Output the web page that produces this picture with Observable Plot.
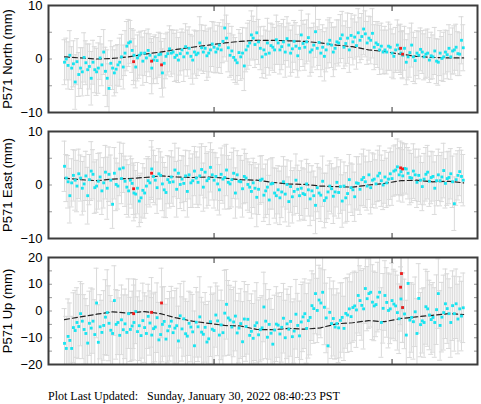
<!DOCTYPE html>
<html><head><meta charset="utf-8">
<script src="https://cdn.jsdelivr.net/npm/d3@7"></script>
<script src="https://cdn.jsdelivr.net/npm/@observablehq/plot@0.6"></script>
<style>
body{margin:0;background:#fff;}
#wrap{position:relative;width:481px;height:404px;}
.panel{position:absolute;left:0;}
#foot{position:absolute;left:48px;top:389px;font:12px "Liberation Serif","Times New Roman",serif;color:#000;white-space:pre;}
</style></head><body><div id="wrap"></div>
<script>
// ---- time grid (decimal years) ----
const firstDate = 2019.16;
const spacing = 0.01;
const xDomain = [2019.07, 2021.48];
const yearTicks = [2020, 2021];

// ---- daily solutions ----
const northValues = [
-0.6,0.0,-1.2,0.7,-1.7,-0.9,-4.3,-0.5,-2.9,-1.7,-2.4,0.3,-0.7,-2.0,-1.4,
-3.6,-0.6,-2.0,-2.4,-1.7,0.2,-1.1,1.3,-2.3,-3.6,-5.5,-0.8,-1.7,-2.6,-1.9,
-1.1,-0.6,0.4,-1.5,1.1,2.4,3.0,3.2,1.6,0.7,-1.5,0.2,0.7,1.1,-0.4,
1.1,0.2,1.6,0.7,-1.7,-0.2,0.4,-0.3,0.8,0.9,-2.6,-0.8,0.5,1.0,1.9,
1.1,1.3,0.3,0.7,-0.2,1.0,1.7,0.4,2.3,1.1,2.0,0.5,-0.2,1.3,0.8,
1.1,3.0,2.1,1.3,2.0,0.6,1.1,1.7,2.8,2.2,1.3,1.9,2.6,1.7,3.3,
5.8,3.9,2.1,0.7,1.5,0.3,-0.2,-0.7,1.2,0.4,1.1,-1.3,1.7,2.4,3.0,
4.5,3.9,2.7,4.9,3.2,2.0,0.4,1.7,0.9,3.0,1.1,2.5,2.2,1.7,3.6,
3.0,1.7,2.3,3.2,1.3,3.8,2.6,1.1,1.9,3.3,2.4,0.6,2.0,4.5,2.9,
2.2,3.2,4.0,1.3,1.7,2.6,5.1,2.0,3.1,1.1,2.2,0.5,1.7,2.8,3.5,
2.6,1.3,2.0,3.2,3.0,3.8,4.5,2.2,2.9,3.9,1.7,4.4,3.2,4.1,2.5,
4.9,3.5,4.2,5.6,4.7,3.0,3.9,3.5,4.8,2.2,3.0,2.7,1.7,2.4,1.3,
1.7,1.3,2.4,2.2,1.1,0.5,1.7,2.6,1.9,1.1,0.7,2.0,-0.6,0.4,1.2,
2.6,0.4,-0.3,1.1,0.7,1.8,1.3,0.4,0.9,1.1,-0.2,0.6,0.4,1.5,-0.4,
-0.6,1.1,0.1,0.4,1.3,0.8,2.0,0.4,1.5,1.7,2.2,1.0,0.9,3.5,2.1];
const northSigma = [
4.2,3.9,4.4,4.6,4.0,4.3,5.1,4.3,4.1,3.8,4.5,4.6,4.1,4.8,4.2,
5.0,4.1,4.3,4.4,4.7,4.0,3.9,4.2,4.5,5.3,4.6,4.2,4.0,4.3,4.4,
3.8,4.5,4.2,4.1,4.2,4.6,4.4,4.0,4.1,4.7,3.9,4.3,4.3,4.1,4.5,
4.2,4.6,4.0,4.0,4.8,4.4,4.1,4.3,4.2,3.9,4.5,4.6,4.2,4.0,4.3,
4.4,4.1,4.5,4.7,4.2,4.0,3.9,4.6,4.3,4.3,4.0,4.1,4.5,4.1,4.4,
4.2,4.9,4.3,4.0,4.3,4.6,4.5,4.1,4.2,4.7,3.9,4.4,4.2,4.4,4.0,
5.4,4.3,4.5,4.1,4.6,4.2,4.2,4.0,4.3,4.4,4.8,4.6,4.1,4.3,4.2,
4.5,4.1,4.3,5.0,4.2,4.0,3.9,4.4,4.5,4.6,4.1,4.2,4.3,4.2,4.6,
4.0,4.5,4.3,4.2,4.7,4.1,4.1,4.3,4.4,3.9,4.4,4.0,4.2,4.6,4.3,
4.3,4.1,4.4,4.5,4.2,4.1,4.8,4.0,4.3,4.4,4.2,4.6,4.1,4.5,4.2,
4.2,4.6,4.0,4.1,4.3,4.5,4.4,4.0,4.2,4.7,4.2,4.1,4.3,4.1,4.4,
4.5,4.2,4.3,4.8,4.3,4.0,4.1,4.4,4.6,4.2,4.0,4.3,4.6,4.3,4.1,
4.4,4.1,4.5,4.3,4.5,4.2,4.2,4.7,4.4,4.0,4.4,4.1,4.2,4.3,4.6,
4.1,4.6,4.3,4.2,4.4,4.0,4.0,4.3,4.5,4.5,4.2,4.4,4.1,4.4,4.2,
4.3,4.2,4.1,4.6,4.1,4.5,4.4,4.2,4.3,4.5,4.3,4.1,4.0,4.4,4.3];
const eastValues = [
3.5,1.3,0.6,-2.0,0.4,1.8,0.9,-0.2,2.1,1.3,-0.6,0.2,1.7,-2.0,1.0,
2.6,2.0,-0.5,-0.2,0.7,1.5,-1.1,0.4,2.4,-0.6,2.0,0.9,-3.6,2.2,0.1,
-0.2,3.0,1.2,3.2,0.7,-0.4,-1.1,0.9,0.3,-1.5,-1.7,-0.6,-3.0,-2.4,-1.0,
-1.5,-0.2,0.8,0.4,3.0,1.6,0.9,-0.5,2.1,1.8,0.2,-0.9,-1.4,1.0,0.5,
1.5,0.6,2.8,-0.8,2.2,0.1,1.1,0.3,1.7,-1.2,1.9,0.4,0.8,2.6,1.3,
0.5,1.7,2.9,-0.4,2.4,0.8,1.2,3.3,1.9,0.9,1.6,0.2,-0.9,2.0,1.1,
1.4,2.8,0.5,0.2,1.0,2.2,-1.5,1.9,0.7,0.6,-0.7,1.6,1.3,0.1,-0.4,
-1.2,0.4,-0.6,-2.3,-0.8,0.9,1.1,-1.9,-1.1,-0.4,-2.8,0.2,0.3,-1.5,-2.0,
-0.9,-2.4,-1.3,0.6,-1.7,0.1,-3.1,-0.3,-2.2,-1.2,0.9,-0.8,-2.0,-0.6,-1.6,
-1.8,0.2,-0.9,-2.6,-1.1,-2.0,-3.8,-0.5,-1.5,-1.9,0.7,-2.9,-2.4,-1.3,-0.2,
-0.7,-2.1,-1.3,0.5,-1.4,-0.3,-3.0,-0.2,-2.4,-1.6,1.0,-0.5,-0.9,-2.2,0.4,
0.3,-0.8,1.0,1.4,0.6,-0.2,1.9,-0.5,0.9,1.1,0.2,1.7,2.2,0.8,0.0,
1.5,0.4,1.1,2.1,1.2,2.6,2.8,3.4,1.9,2.5,1.7,3.1,3.0,2.2,1.4,
1.3,2.6,1.9,0.5,1.8,0.9,-0.3,1.1,2.0,2.4,0.7,1.4,1.6,-0.6,0.8,
1.9,0.8,1.5,2.7,0.3,1.2,1.4,2.1,0.6,-3.5,1.0,1.8,2.5,1.6,0.9];
const eastSigma = [
4.7,4.4,4.9,5.1,4.5,4.8,5.6,4.8,4.6,4.3,5.0,5.1,4.6,5.3,4.7,
5.5,4.6,4.8,4.9,5.2,4.5,4.4,4.7,5.0,5.8,5.1,4.7,4.5,4.8,4.9,
4.3,5.0,4.7,4.6,4.7,5.1,4.9,4.5,4.6,5.2,4.4,4.8,4.8,4.6,5.0,
4.7,5.1,4.5,4.5,5.3,4.9,4.6,4.8,4.7,4.4,5.0,5.1,4.7,4.5,4.8,
4.9,4.6,5.0,5.2,4.7,4.5,4.4,5.1,4.8,4.8,4.5,4.6,5.0,4.6,4.9,
4.7,5.4,4.8,4.5,4.8,5.1,5.0,4.6,4.7,5.2,4.4,4.9,4.7,4.9,4.5,
5.9,4.8,5.0,4.6,5.1,4.7,4.7,4.5,4.8,4.9,5.3,5.1,4.6,4.8,4.7,
5.0,4.6,4.8,5.5,4.7,4.5,4.4,4.9,5.0,5.1,4.6,4.7,4.8,4.7,5.1,
4.5,5.0,4.8,4.7,5.2,4.6,4.6,4.8,4.9,4.4,4.9,4.5,4.7,5.1,4.8,
4.8,4.6,4.9,5.0,4.7,4.6,5.3,4.5,4.8,4.9,4.7,5.1,4.6,5.0,4.7,
4.7,5.1,4.5,4.6,4.8,5.0,4.9,4.5,4.7,5.2,4.7,4.6,4.8,4.6,4.9,
5.0,4.7,4.8,5.3,4.8,4.5,4.6,4.9,5.1,4.7,4.5,4.8,5.1,4.8,4.6,
4.9,4.6,5.0,4.8,5.0,4.7,4.7,5.2,4.9,4.5,4.9,4.6,4.7,4.8,5.1,
4.6,5.1,4.8,4.7,4.9,4.5,4.5,4.8,5.0,5.0,4.7,4.9,4.6,4.9,4.7,
4.8,4.7,4.6,5.1,4.6,5.0,4.9,4.7,4.8,5.0,4.8,4.6,4.5,4.9,4.8];
const upValues = [
-12.1,-14.0,-9.5,-11.0,-14.0,-6.2,-7.3,-4.3,-5.8,-1.0,-3.8,-6.9,-8.4,-12.0,-4.6,
-6.4,-3.8,-8.8,3.0,-11.7,-5.9,-8.0,-5.4,-2.3,-0.6,-4.6,-7.2,-8.4,3.9,-5.0,
-4.3,-9.1,-3.3,-7.0,-4.8,-8.0,-1.0,-6.9,-5.6,-4.3,-0.2,-7.7,-5.5,-9.2,-3.6,
-6.2,-8.4,-2.0,-4.5,-9.0,-6.6,-6.0,-2.5,-10.8,-8.8,-5.0,-3.9,-10.5,-7.4,-5.7,
-3.8,-8.1,-6.4,-5.5,-11.2,-1.8,-6.7,-2.9,-8.5,-9.4,-4.6,-6.0,-7.8,-13.0,-4.2,
-5.9,-2.2,-7.9,-8.7,-6.1,-11.6,-10.4,-4.0,-6.8,-7.3,-1.5,-3.7,-9.0,-5.2,-8.1,
-0.8,2.5,-2.6,-3.4,-6.0,-4.1,-1.9,-8.2,-6.4,-4.7,-11.5,-3.0,-5.8,-3.1,-9.1,
-7.6,-10.2,-5.5,-4.4,-8.9,-7.0,-6.3,1.5,-3.8,-9.8,-5.0,-8.3,-12.4,-7.1,-4.9,
-5.3,-8.6,-6.1,-2.7,-10.0,-4.8,-6.8,-3.9,-9.6,-7.5,-1.2,-5.4,-9.3,-4.1,-2.2,
-1.0,-6.5,-3.6,-2.4,2.0,0.9,6.5,0.2,4.1,3.0,7.0,1.4,-2.6,-13.0,-0.5,
-4.7,-2.8,-6.0,-4.7,-6.3,-3.5,-2.4,-6.5,-0.9,-1.5,0.8,-2.1,1.3,1.9,0.4,
5.8,3.9,2.1,0.8,8.4,4.6,6.5,7.0,3.3,1.9,2.4,5.2,7.0,-4.3,1.0,
5.8,3.2,0.2,0.8,3.9,2.6,1.9,-0.6,-2.9,4.5,1.2,-1.1,-9.0,10.3,-3.4,
-2.4,-4.0,-0.3,-8.4,4.7,-5.1,-3.7,-4.3,1.6,0.8,-1.5,-3.2,-2.4,-4.3,0.5,
6.5,-5.4,-2.3,-0.6,2.7,0.9,-1.0,-4.3,2.0,-1.0,2.7,-3.0,0.8,-1.9,1.2];
const upSigma = [
13,12,14,14,12,13,15,13,12,12,14,13,13,14,12,
15,12,13,13,14,12,12,13,14,16,14,13,12,13,13,
12,14,13,13,13,14,13,12,13,14,12,13,13,13,14,
13,14,12,12,14,13,13,13,14,12,14,13,13,12,13,
13,13,14,14,13,12,12,14,13,13,12,13,14,13,13,
13,15,13,12,13,14,14,13,13,14,12,13,13,13,12,
16,13,14,13,14,13,13,12,13,13,15,14,13,13,13,
14,13,13,15,13,12,12,13,14,14,13,13,13,13,14,
12,14,13,13,14,13,13,13,13,12,13,12,13,14,13,
13,13,14,14,13,13,15,12,13,13,13,14,13,14,13,
13,14,12,13,13,14,13,12,13,14,13,13,13,13,14,
14,13,13,15,13,12,13,13,14,13,12,13,14,13,13,
13,13,14,13,14,13,13,14,13,12,13,13,13,13,14,
13,14,13,13,13,12,12,13,14,14,13,13,13,13,13,
13,13,13,14,13,13,13,13,13,14,13,13,12,13,13];

// ---- red (rapid) solutions ----
const redDates = [2019.548, 2019.649, 2019.705, 2021.048, 2021.053, 2021.059];
const redNorth = [-0.5, -0.4, -1.1, 2.0, null, 0.9];
const redNorthSigma = [4.3, 4.2, 4.4, 4.5, null, 4.4];
const redEast = [-0.7, 2.2, null, 3.2, null, 3.0];
const redEastSigma = [4.8, 4.9, null, 5.0, null, 4.9];
const redUp = [-1.0, -0.5, 3.0, 8.9, 14.0, 1.3];
const redUpSigma = [13, 13, 13, 14, 14, 13];

// ---- model (dashed) ----
const modelDates = [2019.160,2019.250,2019.340,2019.430,2019.519,2019.609,2019.699,2019.789,2019.879,2019.969,
2020.059,2020.149,2020.239,2020.328,2020.418,2020.508,2020.598,2020.688,2020.778,2020.868,
2020.958,2021.048,2021.137,2021.227,2021.317,2021.402];
const northModel = [0.4,0.2,0.0,0.1,0.4,0.9,1.3,1.8,2.2,2.6,3.0,3.3,3.5,3.5,3.4,3.3,3.0,2.6,2.3,1.7,1.4,0.9,0.5,0.3,0.2,0.2];
const eastModel = [1.3,1.0,0.8,1.1,1.2,1.4,1.7,1.5,1.4,1.5,1.3,1.0,0.9,0.5,0.2,0.1,-0.2,-0.3,-0.4,0.0,0.3,0.8,0.9,0.6,0.7,0.4];
const upModel = [-3.2,-2.2,-1.2,-0.3,-0.8,-0.2,-1.0,-2.6,-3.8,-4.6,-5.4,-5.6,-6.9,-7.0,-6.5,-6.8,-6.3,-4.8,-4.4,-3.6,-4.0,-2.8,-2.2,-1.6,-1.0,-1.3];

const panels = [
  {values: northValues, sigma: northSigma, red: redNorth, redSigma: redNorthSigma, model: northModel,
   domain: [-10, 10], labels: [-10, 0, 10], ticks: [-10, -5, 0, 5, 10], label: "P571 North (mm)", top: 0},
  {values: eastValues, sigma: eastSigma, red: redEast, redSigma: redEastSigma, model: eastModel,
   domain: [-10, 10], labels: [-10, 0, 10], ticks: [-10, -5, 0, 5, 10], label: "P571 East (mm)", top: 126},
  {values: upValues, sigma: upSigma, red: redUp, redSigma: redUpSigma, model: upModel,
   domain: [-20, 20], labels: [-20, -10, 0, 10, 20], ticks: [-20, -15, -10, -5, 0, 5, 10, 15, 20], label: "P571 Up (mm)", top: 252}
];

const wrap = document.getElementById("wrap");
const barColor = "#dadada";

for (const p of panels) {
  const pts = p.values.map((v, i) => ({t: firstDate + i * spacing, v, s: p.sigma[i]}));
  const reds = redDates.map((t, i) => ({t, v: p.red[i], s: p.redSigma[i]})).filter(d => d.v != null);
  const all = pts.concat(reds);
  const model = modelDates.map((t, i) => ({t, v: p.model[i]}));
  const chart = Plot.plot({
    width: 481, height: 120,
    marginLeft: 48, marginRight: 4, marginTop: 5, marginBottom: 8,
    style: {fontFamily: "'Liberation Sans', Arial, sans-serif", fontSize: "12px", color: "#000", background: "transparent", overflow: "visible"},
    x: {domain: xDomain},
    y: {domain: p.domain},
    marks: [
      Plot.ruleX(all, {x: "t", y1: d => d.v - d.s, y2: d => d.v + d.s, stroke: barColor, strokeWidth: 1, clip: true}),
      Plot.ruleY(all, {y: d => d.v + d.s, x1: "t", x2: "t", insetLeft: -2.5, insetRight: -2.5, stroke: barColor, clip: true}),
      Plot.ruleY(all, {y: d => d.v - d.s, x1: "t", x2: "t", insetLeft: -2.5, insetRight: -2.5, stroke: barColor, clip: true}),
      Plot.line(model, {x: "t", y: "v", stroke: "#222", strokeWidth: 1.2, strokeDasharray: "5,3"}),
      Plot.dot(pts, {x: "t", y: "v", symbol: "square", r: 1.6, fill: "#18e4f0", stroke: null}),
      Plot.dot(reds, {x: "t", y: "v", symbol: "square", r: 1.6, fill: "#ee1c1c", stroke: null}),
      Plot.axisY({ticks: p.ticks, tickSize: -4, tickFormat: () => "", stroke: "#999", label: null}),
      Plot.axisY({anchor: "right", ticks: p.ticks, tickSize: -4, tickFormat: () => "", stroke: "#999", label: null}),
      Plot.axisX({anchor: "top", ticks: yearTicks, tickSize: -5, tickFormat: () => "", stroke: "#333", label: null}),
      Plot.axisX({anchor: "bottom", ticks: yearTicks, tickSize: -5, tickFormat: () => "", stroke: "#333", label: null}),
      Plot.axisY({ticks: p.labels, tickSize: 0, tickPadding: 6, fontSize: 13, label: p.label, labelAnchor: "center", labelArrow: "none", labelOffset: 46}),
      Plot.frame({stroke: "#3c3c3c", strokeWidth: 2})
    ]
  });
  const div = document.createElement("div");
  div.className = "panel";
  div.style.top = p.top + "px";
  div.appendChild(chart);
  wrap.appendChild(div);
}

const foot = document.createElement("div");
foot.id = "foot";
foot.textContent = "Plot Last Updated:   Sunday, January 30, 2022 08:40:23 PST";
wrap.appendChild(foot);
</script>
</body></html>
